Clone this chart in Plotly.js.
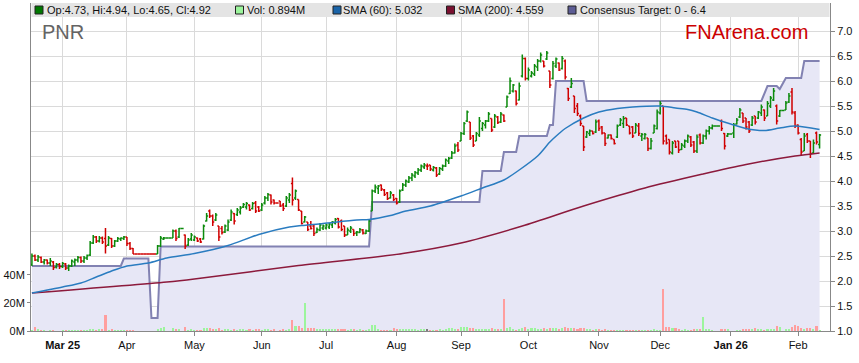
<!DOCTYPE html>
<html><head><meta charset="utf-8">
<script src="https://cdn.plot.ly/plotly-3.0.1.min.js"></script>
<style>html,body{margin:0;padding:0;background:#fff;}#chart{width:859px;height:363px;}</style>
</head><body><div id="chart"></div>
<script>
// ---------------- DATA ----------------
const firstTradingDay = '2025-02-17';
const tickLabels = ['Mar 25','Apr','May','Jun','Jul','Aug','Sep','Oct','Nov','Dec','Jan 26','Feb'];
const priceTicks = [1.0,1.5,2.0,2.5,3.0,3.5,4.0,4.5,5.0,5.5,6.0,6.5,7.0];
const volTicks = [0,20,40];

const open = [
2.33,2.50,2.42,2.47,2.38,2.42,2.36,2.38,2.28,2.33,
2.29,2.34,2.26,2.30,2.38,2.42,2.47,2.40,2.46,2.52,
2.76,2.88,2.80,2.86,2.85,2.72,2.85,2.70,2.80,2.84,
2.85,2.88,2.75,2.65,2.54,2.54,2.54,2.54,2.54,2.54,
2.54,2.54,2.70,2.84,2.86,2.86,2.86,3.00,2.88,3.05,
2.92,2.72,2.84,2.82,2.86,2.84,2.84,3.20,3.40,3.30,
3.22,3.10,3.05,2.98,3.02,3.22,3.35,3.33,3.38,3.48,
3.48,3.52,3.45,3.56,3.48,3.42,3.56,3.66,3.72,3.62,
3.56,3.60,3.52,3.50,3.62,3.95,3.66,3.63,3.40,3.18,
3.18,3.10,3.10,2.97,3.02,3.06,3.06,3.08,3.12,3.16,
3.25,3.20,3.10,2.92,3.00,3.03,2.96,2.97,3.02,2.95,
3.00,3.40,3.80,3.85,3.92,3.82,3.76,3.66,3.72,3.65,
3.58,3.82,3.92,3.98,4.06,4.10,4.16,4.22,4.28,4.30,
4.32,4.22,4.26,4.14,4.24,4.30,4.40,4.46,4.56,4.72,
4.80,4.95,5.20,5.18,4.90,4.80,4.92,5.05,5.12,5.20,
5.25,5.08,5.28,5.18,5.32,5.48,5.75,5.80,5.80,5.62,
6.10,6.45,6.05,6.10,6.14,6.28,6.40,6.40,6.44,6.20,
6.05,6.30,6.36,6.25,6.40,5.85,5.88,5.70,5.50,5.30,
5.10,4.88,4.95,5.00,4.98,5.20,5.08,4.96,4.86,4.92,
4.83,4.88,5.12,5.15,5.26,5.10,5.08,4.96,5.10,4.90,
4.85,4.86,4.65,4.96,5.05,5.36,5.50,4.90,4.83,4.56,
4.80,4.80,4.63,4.70,4.80,4.88,4.78,4.60,4.92,4.76,
4.90,5.00,5.06,5.10,5.10,5.20,4.95,4.90,4.94,4.96,
5.14,5.28,5.36,5.26,5.18,5.12,5.30,5.26,5.36,5.42,
5.30,5.50,5.62,5.50,5.30,5.41,5.42,5.58,5.78,5.36,
5.12,4.83,4.60,4.93,4.80,4.56,4.96,4.73];
const high = [
2.55,2.53,2.52,2.49,2.44,2.43,2.46,2.40,2.36,2.36,
2.38,2.36,2.33,2.43,2.45,2.50,2.49,2.50,2.53,2.80,
2.92,2.90,2.90,2.89,3.06,2.90,2.86,2.82,2.88,2.87,
2.90,2.88,2.78,2.66,2.54,2.54,2.54,2.54,2.54,2.54,
2.54,2.72,2.90,2.88,2.86,2.86,3.03,3.03,3.06,3.05,
2.93,2.86,2.96,2.91,2.87,2.86,3.13,3.36,3.43,3.33,
3.36,3.10,3.10,3.13,3.23,3.43,3.36,3.46,3.50,3.56,
3.58,3.53,3.58,3.60,3.50,3.56,3.70,3.76,3.73,3.63,
3.56,3.60,3.56,3.70,3.76,4.07,3.83,3.63,3.40,3.30,
3.18,3.20,3.13,3.07,3.16,3.13,3.15,3.16,3.20,3.26,
3.26,3.23,3.10,3.07,3.10,3.03,3.00,3.06,3.04,3.03,
3.23,3.83,3.93,3.92,3.93,3.84,3.78,3.80,3.74,3.66,
3.83,3.96,4.03,4.10,4.16,4.20,4.26,4.33,4.36,4.35,
4.32,4.30,4.28,4.28,4.33,4.45,4.48,4.60,4.75,4.78,
4.98,5.18,5.41,5.18,4.92,4.98,5.28,5.18,5.22,5.38,
5.25,5.34,5.30,5.38,5.33,5.71,6.07,5.94,5.81,5.97,
6.53,6.47,6.27,6.20,6.34,6.44,6.57,6.40,6.60,6.20,
6.40,6.47,6.37,6.50,6.43,5.86,6.06,5.70,5.56,5.33,
5.10,5.00,5.03,5.00,5.23,5.23,5.10,4.96,4.93,4.93,
4.83,5.13,5.26,5.30,5.26,5.10,5.10,5.16,5.16,4.96,
4.96,4.86,4.86,5.13,5.43,5.60,5.50,4.93,4.83,4.80,
4.80,4.80,4.76,4.83,4.93,4.90,4.80,4.93,4.95,4.93,
5.03,5.10,5.13,5.10,5.10,5.23,4.96,4.96,4.94,5.16,
5.26,5.46,5.36,5.26,5.20,5.30,5.30,5.40,5.53,5.43,
5.60,5.70,5.86,5.53,5.42,5.41,5.60,5.76,5.86,5.40,
5.13,4.86,4.96,4.96,4.80,4.83,4.99,4.94];
const low = [
2.30,2.40,2.38,2.36,2.33,2.33,2.30,2.22,2.25,2.24,
2.26,2.22,2.20,2.28,2.30,2.37,2.36,2.36,2.42,2.50,
2.74,2.76,2.77,2.74,2.55,2.70,2.66,2.68,2.78,2.80,
2.82,2.70,2.62,2.54,2.54,2.54,2.54,2.54,2.54,2.54,
2.54,2.54,2.68,2.82,2.86,2.86,2.86,2.80,2.86,3.05,
2.64,2.70,2.80,2.80,2.78,2.76,2.83,3.19,3.26,3.10,
3.20,2.80,2.93,2.96,3.00,3.20,3.13,3.30,3.33,3.46,
3.43,3.40,3.43,3.36,3.38,3.40,3.53,3.60,3.53,3.53,
3.56,3.48,3.40,3.48,3.56,3.51,3.62,3.40,3.13,3.17,
3.00,3.03,2.90,2.96,3.00,3.02,3.03,3.04,3.06,3.13,
3.05,3.00,2.88,2.92,2.96,2.90,2.90,2.96,2.93,2.94,
2.98,3.40,3.76,3.74,3.80,3.70,3.62,3.65,3.60,3.53,
3.56,3.80,3.88,3.96,4.00,4.06,4.12,4.18,4.24,4.22,
4.20,4.19,4.08,4.12,4.20,4.28,4.34,4.44,4.55,4.58,
4.80,4.92,5.18,4.82,4.68,4.80,4.88,5.00,5.05,5.18,
4.98,5.06,5.14,5.16,5.18,5.48,5.74,5.77,5.51,5.61,
6.07,6.01,6.01,6.07,6.10,6.20,6.37,6.27,6.42,5.86,
6.03,6.26,6.20,6.23,6.03,5.60,5.86,5.36,5.30,5.10,
4.60,4.86,4.90,4.93,4.96,5.00,4.93,4.70,4.85,4.83,
4.73,4.86,5.10,5.06,5.10,4.93,4.86,4.96,4.90,4.80,
4.83,4.60,4.63,4.96,5.03,5.33,4.73,4.73,4.53,4.53,
4.66,4.56,4.62,4.66,4.76,4.68,4.56,4.56,4.73,4.74,
4.83,4.93,5.03,5.10,5.10,5.00,4.63,4.88,4.94,4.86,
5.13,5.26,5.16,5.03,4.96,5.10,5.13,5.24,5.30,5.20,
5.30,5.46,5.60,5.13,5.28,5.41,5.42,5.56,5.33,5.06,
4.93,4.50,4.60,4.76,4.46,4.55,4.73,4.65];
const close = [
2.50,2.42,2.48,2.38,2.42,2.36,2.40,2.27,2.33,2.29,
2.35,2.26,2.30,2.40,2.42,2.47,2.40,2.46,2.51,2.76,
2.88,2.80,2.86,2.78,2.70,2.86,2.70,2.80,2.85,2.86,
2.88,2.75,2.65,2.54,2.54,2.54,2.54,2.54,2.54,2.54,
2.54,2.70,2.86,2.86,2.86,2.86,3.00,2.85,3.05,3.05,
2.70,2.82,2.92,2.88,2.80,2.78,3.10,3.30,3.30,3.18,
3.32,2.88,2.97,3.10,3.18,3.38,3.20,3.42,3.46,3.53,
3.55,3.42,3.55,3.40,3.40,3.52,3.66,3.73,3.58,3.56,
3.56,3.50,3.45,3.66,3.72,3.62,3.80,3.42,3.15,3.28,
3.03,3.05,2.95,3.03,3.12,3.10,3.12,3.14,3.18,3.23,
3.08,3.03,2.92,3.02,3.06,2.95,2.98,3.03,2.96,3.00,
3.20,3.80,3.88,3.90,3.84,3.73,3.65,3.76,3.63,3.56,
3.80,3.92,4.00,4.06,4.12,4.17,4.22,4.30,4.32,4.30,
4.24,4.27,4.12,4.25,4.30,4.42,4.45,4.56,4.70,4.62,
4.95,5.15,5.38,4.86,4.72,4.95,5.20,5.15,5.20,5.34,
5.02,5.30,5.17,5.34,5.20,5.68,6.00,5.92,5.55,5.90,
6.45,6.05,6.22,6.16,6.30,6.40,6.52,6.30,6.56,5.92,
6.35,6.44,6.22,6.45,6.08,5.65,5.95,5.45,5.35,5.15,
4.68,4.98,5.00,4.95,5.18,5.05,4.96,4.75,4.92,4.85,
4.75,5.10,5.22,5.25,5.12,4.96,4.90,5.12,4.95,4.93,
4.93,4.65,4.80,5.10,5.38,5.55,4.80,4.76,4.58,4.76,
4.68,4.62,4.72,4.80,4.90,4.72,4.60,4.88,4.76,4.90,
5.00,5.06,5.10,5.10,5.10,5.05,4.70,4.94,4.94,5.12,
5.22,5.42,5.20,5.08,5.00,5.26,5.18,5.38,5.48,5.26,
5.55,5.66,5.80,5.20,5.41,5.41,5.56,5.70,5.38,5.10,
4.96,4.58,4.90,4.80,4.55,4.76,4.78,4.92];
// volume in millions
const volumeM = [
0.7,3.0,1.4,0.7,1.0,0.3,0.5,1.0,0.3,0.3,
0.5,0.6,0.6,0.8,0.6,0.5,0.5,0.6,0.8,1.5,
1.4,1.0,1.2,1.2,11.4,1.0,1.2,0.8,0.4,0.4,
0.6,0.5,0.4,0.4,0,0,0,0,0,0,
0,1.2,2.4,3.1,0,0,2.3,1.4,1.2,0,
3.1,1.0,1.2,1.0,0.8,1.0,1.8,2.2,1.8,1.5,
1.2,2.3,1.0,1.2,1.2,1.0,1.2,1.0,1.4,1.2,
0.8,1.4,1.0,1.6,1.2,1.0,1.4,1.4,1.0,1.2,
0,1.0,1.4,1.0,1.2,7.9,3.8,3.8,1.9,20.2,
2.4,2.2,2.4,1.2,1.4,1.4,1.4,1.2,1.4,1.4,
1.4,1.2,1.6,1.0,1.2,1.2,1.0,1.2,0.8,1.0,
1.2,4.5,4.5,1.2,1.0,0.8,1.0,1.0,2.4,1.2,
1.4,1.2,1.4,1.2,1.4,1.2,0.8,1.2,1.2,1.2,
0.8,0.6,0.8,1.2,0.6,1.4,2.1,2.1,1.2,1.4,
2.6,2.8,2.6,2.1,2.1,1.4,1.6,1.2,1.4,1.6,
1.8,1.2,1.2,1.4,22.9,2.4,3.1,1.2,1.0,1.6,
2.2,3.1,1.6,1.8,1.8,1.6,1.4,1.8,1.4,2.2,
1.8,2.1,1.6,1.8,3.1,2.2,1.8,1.8,1.6,1.8,
2.2,1.2,1.2,1.0,1.4,1.2,0.6,1.2,0.8,0.6,
0.8,1.0,1.0,0.8,0.6,0.6,0.8,0.6,0.6,0.8,
1.0,0.8,1.0,1.2,0.8,1.0,30.0,2.6,2.6,2.2,
2.2,1.2,1.0,1.2,1.0,1.0,1.2,1.2,1.2,10.2,
1.2,1.6,1.0,0,0,1.2,1.2,1.2,0,0.3,
0.8,1.0,1.2,1.2,1.4,1.6,2.0,1.6,1.2,1.0,
1.4,1.6,1.6,3.8,2.9,0,1.4,1.6,2.6,4.5,
3.8,2.0,1.4,2.4,1.8,1.6,3.6,0.894];

// moving averages read at sampled trading-day indices
const sma60Day = [0,10,16,21,26,31,38,44,53,64,74,84,88,95,106,110,117,122,130,140,147,154,159,165,169,172,174,180,185,191,196,205,210,214,217,222,228,233,239,244,249,257];
const sma60Val = [1.76,1.88,1.96,2.08,2.20,2.30,2.36,2.46,2.55,2.71,2.93,3.08,3.11,3.15,3.22,3.23,3.31,3.40,3.50,3.70,3.86,4.02,4.22,4.50,4.78,4.95,5.05,5.26,5.38,5.45,5.48,5.50,5.46,5.43,5.38,5.26,5.14,5.05,5.01,5.06,5.10,5.03];
const sma200Day = [0,44,53,87,121,140,160,180,200,219,233,249,257];
const sma200Val = [1.76,1.98,2.04,2.31,2.55,2.76,3.10,3.50,3.86,4.14,4.33,4.50,4.56];
// consensus target: value on the trading days where it changes
const targetDay = [0,29,30,38,39,41,42,110,111,146,147,153,154,158,159,168,169,170,171,180,181,238,240,243,244,246,251,252,257];
const targetVal = [2.30,2.30,2.45,2.45,1.26,1.26,2.69,2.69,3.58,3.58,4.2,4.2,4.58,4.58,4.9,4.9,5.12,5.12,6.0,6.0,5.6,5.6,5.9,5.9,5.84,6.06,6.06,6.4,6.4];

// ---------------- build ----------------
const dates = [];
(function(){ const d = new Date(firstTradingDay + 'T00:00:00Z');
  while (dates.length < close.length) { const w = d.getUTCDay(); if (w !== 0 && w !== 6) dates.push(new Date(d.getTime())); d.setUTCDate(d.getUTCDate() + 1); } })();
const dayIdx = dates.map((_, i) => i);
const tickVals = [];
dates.forEach((dt, i) => { if (i > 0 && dt.getUTCMonth() !== dates[i-1].getUTCMonth()) tickVals.push(i); });
const tickText = tickLabels.map(t => t.indexOf(' ') > 0 ? '<b>' + t + '</b>' : t);
const volColors = close.map((c, i) => c > open[i] ? '#9cf59c' : (c < open[i] ? '#ff9e9e' : '#7c7c7c'));

const PL = 31, PR = 830, PT = 3, PB = 331;
const xp = px => (px - PL) / (PR - PL);
const yp = py => (PB - py) / (PB - PT);
const priceRange = [1.0, 7.56];

const traces = [
  // base subplot (drawn first): consensus target area
  {type:'scatter', mode:'lines', x:targetDay, y:targetVal, line:{color:'#8282b2', width:2}, fill:'tozeroy', fillcolor:'#e7e7f6', hoverinfo:'skip'},
  // overlay 1: volume
  {type:'bar', x:dayIdx, y:volumeM, yaxis:'y2', marker:{color:volColors, line:{width:0}}, width:0.68, hoverinfo:'skip'},
  // overlay 2: price bars and moving averages
  {type:'ohlc', x:dayIdx, open:open, high:high, low:low, close:close, yaxis:'y3', tickwidth:0.5,
   increasing:{line:{color:'#0b8a0b', width:1.5}}, decreasing:{line:{color:'#d00000', width:1.5}}, hoverinfo:'skip'},
  {type:'scatter', mode:'lines', x:sma200Day, y:sma200Val, yaxis:'y3', line:{color:'#8c1a3c', width:1.5, shape:'spline', smoothing:0.8}, hoverinfo:'skip'},
  {type:'scatter', mode:'lines', x:sma60Day, y:sma60Val, yaxis:'y3', line:{color:'#2a7cc0', width:1.5, shape:'spline', smoothing:0.8}, hoverinfo:'skip'}
];

const legendItems = [
  {sq:35, tx:46.5, color:'#007800', text:'Op:' + open[open.length-1].toFixed(2) + ', Hi:' + high[high.length-1].toFixed(2) + ', Lo:' + low[low.length-1].toFixed(2) + ', Cl:' + close[close.length-1].toFixed(2)},
  {sq:235.5, tx:246.5, color:'#9cf59c', text:'Vol: ' + volumeM[volumeM.length-1].toFixed(3) + 'M'},
  {sq:333, tx:343, color:'#1a64a8', text:'SMA (60): 5.032'},
  {sq:446.5, tx:458, color:'#7a1030', text:'SMA (200): 4.559'},
  {sq:568, tx:580, color:'#5c5c94', text:'Consensus Target: 0 - ' + targetVal[targetVal.length-1].toFixed(1)}
];
const shapes = [{type:'rect', xref:'paper', yref:'paper', x0:xp(31.5), x1:xp(829.5), y0:yp(17), y1:1, fillcolor:'#e4e4e4', line:{width:0}, layer:'above'}];
const annotations = [];
legendItems.forEach(it => {
  shapes.push({type:'rect', xref:'paper', yref:'paper', x0:xp(it.sq), x1:xp(it.sq+8), y0:yp(14), y1:yp(6), fillcolor:it.color, line:{color:'#222', width:1}, layer:'above'});
  annotations.push({xref:'paper', yref:'paper', x:xp(it.tx-2), y:yp(10), xanchor:'left', yanchor:'middle', showarrow:false, text:it.text, font:{size:11, color:'#111'}});
});
annotations.push({xref:'paper', yref:'paper', x:xp(40), y:yp(32), xanchor:'left', yanchor:'middle', showarrow:false, text:'PNR', font:{size:20, color:'#646464'}});
annotations.push({xref:'paper', yref:'paper', x:xp(810), y:yp(32), xanchor:'right', yanchor:'middle', showarrow:false, text:'FNArena.com', font:{size:20, color:'#cc0000'}});

const layout = {
  width:859, height:363, margin:{l:PL, r:859-PR, t:PT, b:363-PB, pad:0},
  paper_bgcolor:'#ffffff', plot_bgcolor:'#ffffff', showlegend:false, dragmode:false,
  font:{family:'"Liberation Sans", Arial, sans-serif', size:11, color:'#111'},
  xaxis:{range:[-0.3, 260.4], tickmode:'array', tickvals:tickVals, ticktext:tickText, ticks:'outside', ticklen:4, tickcolor:'#888',
         showgrid:true, gridcolor:'#dadada', gridwidth:1, showline:true, linecolor:'#888', zeroline:false, rangeslider:{visible:false}, fixedrange:true},
  yaxis:{side:'right', range:priceRange, tickmode:'array', tickvals:priceTicks, ticktext:priceTicks.map(v => v.toFixed(1)), ticks:'outside', ticklen:4, tickcolor:'#888',
         showgrid:true, gridcolor:'#dadada', gridwidth:1, showline:true, linecolor:'#888', zeroline:false, fixedrange:true},
  yaxis2:{overlaying:'y', side:'left', range:[0, 234], tickmode:'array', tickvals:volTicks, ticktext:volTicks.map(v => v + 'M'), ticks:'outside', ticklen:3, tickcolor:'#888',
          showgrid:false, showline:true, linecolor:'#888', zeroline:false, fixedrange:true},
  yaxis3:{overlaying:'y', side:'right', range:priceRange, visible:false, showgrid:false, zeroline:false, fixedrange:true},
  bargap:0, shapes:shapes, annotations:annotations
};
Plotly.newPlot('chart', traces, layout, {displayModeBar:false, staticPlot:true});
</script></body></html>
